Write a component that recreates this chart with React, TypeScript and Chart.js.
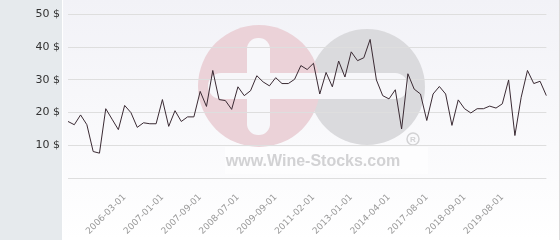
import React, { useEffect, useRef } from "react";
import { Chart, registerables } from "chart.js";

Chart.register(...registerables);

// Price series (one value per auction date)
const values: number[] = [
  17.3, 16.3, 19.3, 16.3, 8.1, 7.6, 21.2, 18, 14.8, 22.2,
  20, 15.5, 16.9, 16.6, 16.6, 24, 15.8, 20.6, 17.3, 18.7,
  18.7, 26.5, 21.9, 32.9, 24, 23.7, 21, 27.9, 25.2, 26.7,
  31.3, 29.4, 28.2, 30.7, 28.9, 28.9, 30.2, 34.4, 33.2, 35.1,
  25.7, 32.3, 27.9, 35.8, 30.9, 38.6, 35.9, 36.8, 42.4, 30,
  25.2, 24.2, 27, 15, 31.9, 27.2, 25.7, 17.6, 25.7, 28,
  25.7, 16.1, 23.9, 21.2, 19.9, 21.2, 21.2, 22, 21.4, 22.7,
  30, 13, 24.7, 32.9, 28.9, 29.6, 25.2,
];

// Visible date labels on the x axis
const tickLabels: string[] = [
  "2006-03-01", "2007-01-01", "2007-09-01", "2008-07-01", "2009-09-01",
  "2011-02-01", "2013-01-01", "2014-04-01", "2017-08-01", "2018-09-01",
  "2019-08-01",
];
const firstLabelIndex = 9;
const labelStep = 6;

const yMin = 0;
const yMax = 50;
const yStep = 10;
const currency = "$";

const categories: string[] = values.map((_, i) => {
  const k = (i - firstLabelIndex) / labelStep;
  return Number.isInteger(k) && k >= 0 && k < tickLabels.length ? tickLabels[k] : "";
});

function roundRect(ctx: CanvasRenderingContext2D, x: number, y: number, w: number, h: number, r: number) {
  ctx.beginPath();
  ctx.moveTo(x + r, y);
  ctx.lineTo(x + w - r, y);
  ctx.arc(x + w - r, y + r, r, -Math.PI / 2, 0);
  ctx.lineTo(x + w, y + h - r);
  ctx.arc(x + w - r, y + h - r, r, 0, Math.PI / 2);
  ctx.lineTo(x + r, y + h);
  ctx.arc(x + r, y + h - r, r, Math.PI / 2, Math.PI);
  ctx.lineTo(x, y + r);
  ctx.arc(x + r, y + r, r, Math.PI, Math.PI * 1.5);
  ctx.closePath();
}

const backgroundPlugin = {
  id: "bgAndWatermark",
  beforeDraw(chart: any) {
    const { ctx, width, height } = chart;
    ctx.save();
    // plot background gradient
    const g = ctx.createLinearGradient(0, 0, 0, height);
    g.addColorStop(0, "#f2f2f7");
    g.addColorStop(1, "#ffffff");
    ctx.fillStyle = g;
    ctx.fillRect(0, 0, width, height);
    // left panel
    ctx.fillStyle = "#e6eaed";
    ctx.fillRect(0, 0, 62, height);
    ctx.fillStyle = "#ffffff";
    ctx.fillRect(62, 0, 1, height);
    // right border
    ctx.fillStyle = "#dcdcdc";
    ctx.fillRect(width - 1, 0, 1, height);

    // watermark logo
    ctx.fillStyle = "#dadadd";
    ctx.beginPath();
    ctx.arc(367, 87, 58, 0, Math.PI * 2);
    ctx.fill();
    ctx.fillStyle = "#ebd2d8";
    ctx.beginPath();
    ctx.arc(259, 86, 61, 0, Math.PI * 2);
    ctx.fill();
    ctx.fillStyle = "#f7f7fa";
    roundRect(ctx, 247, 38, 23, 97, 11);
    ctx.fill();
    roundRect(ctx, 208, 73, 200, 26, 13);
    ctx.fill();
    // text box and text
    ctx.fillStyle = "rgba(255,255,255,0.6)";
    ctx.fillRect(225, 147, 203, 27);
    ctx.fillStyle = "#d2d2d4";
    ctx.font = "bold 16px 'Liberation Sans', Arial, sans-serif";
    ctx.textAlign = "center";
    ctx.textBaseline = "alphabetic";
    ctx.fillText("www.Wine-Stocks.com", 313, 166);
    // registered mark
    ctx.strokeStyle = "#d2d2d4";
    ctx.lineWidth = 1.5;
    ctx.beginPath();
    ctx.arc(413, 139, 6, 0, Math.PI * 2);
    ctx.stroke();
    ctx.font = "bold 8px 'Liberation Sans', Arial, sans-serif";
    ctx.textBaseline = "middle";
    ctx.fillText("R", 413, 139.5);
    ctx.restore();
  },
};

export default function App() {
  const canvasRef = useRef<HTMLCanvasElement | null>(null);

  useEffect(() => {
    document.body.style.margin = "0";
    const canvas = canvasRef.current;
    if (!canvas) return;
    const chart = new Chart(canvas, {
      type: "line",
      data: {
        labels: categories,
        datasets: [
          {
            data: values,
            borderColor: "#3a2a33",
            borderWidth: 1,
            pointRadius: 0,
            tension: 0,
            fill: false,
          },
        ],
      },
      options: {
        animation: false,
        responsive: true,
        maintainAspectRatio: false,
        layout: { padding: { left: 0, right: 5, top: 10, bottom: 0 } },
        plugins: { legend: { display: false }, tooltip: { enabled: false } },
        scales: {
          x: {
            offset: false,
            grid: { display: false },
            border: { display: false },
            ticks: {
              autoSkip: false,
              minRotation: 45,
              maxRotation: 45,
              padding: 6,
              color: "#999999",
              font: { family: "'DejaVu Sans', sans-serif", size: 9 },
            },
            afterFit(scale: any) {
              scale.height = 62;
            },
          },
          y: {
            min: yMin,
            max: yMax,
            ticks: {
              stepSize: yStep,
              padding: 8,
              color: "#333333",
              font: { family: "'DejaVu Sans', sans-serif", size: 11 },
              callback: (v: any) => (Number(v) === 0 ? "" : `${v} ${currency}`),
            },
            grid: { color: "#dedede", lineWidth: 1, drawTicks: false },
            border: { display: false },
            afterFit(scale: any) {
              scale.width = 68;
            },
          },
        },
      },
      plugins: [backgroundPlugin],
    });
    return () => chart.destroy();
  }, []);

  return (
    <div style={{ width: 560, height: 240, position: "relative" }}>
      <canvas ref={canvasRef} />
    </div>
  );
}
